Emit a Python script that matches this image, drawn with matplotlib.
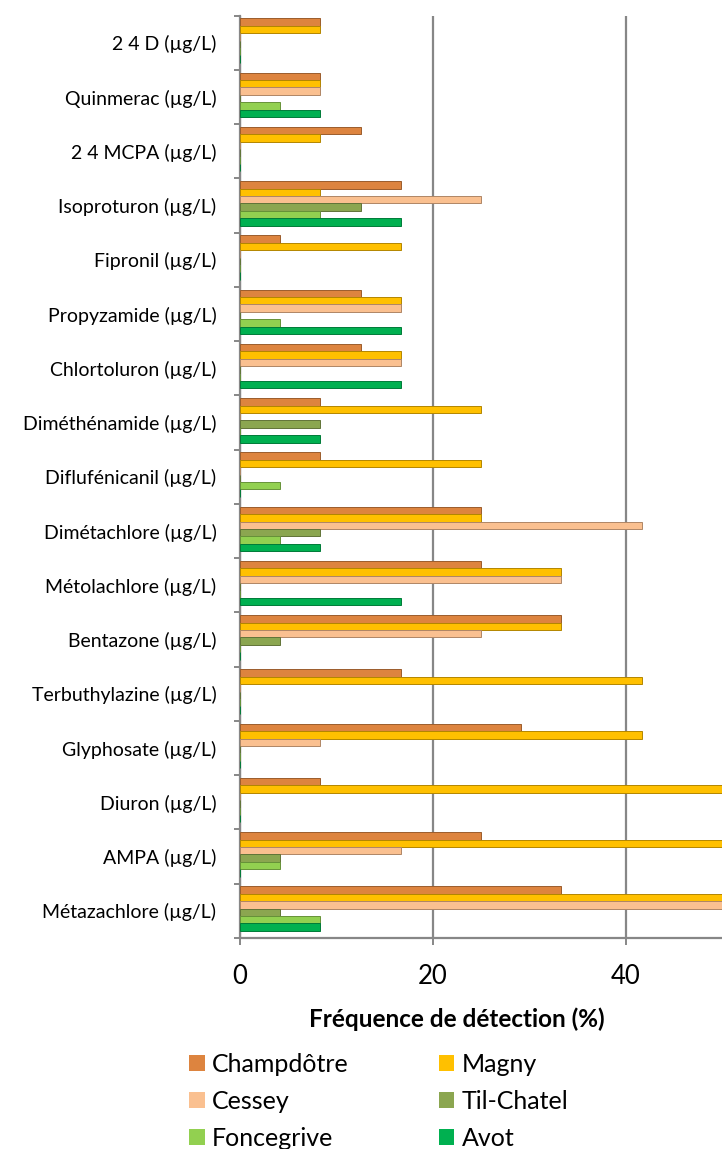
import numpy as np
import matplotlib.pyplot as plt
from matplotlib.patches import Patch
import matplotlib.colors as mcolors

# -------------- DATA --------------
categories = [
    "2 4 D (µg/L)", "Quinmerac (µg/L)", "2 4 MCPA (µg/L)", "Isoproturon (µg/L)",
    "Fipronil (µg/L)", "Propyzamide (µg/L)", "Chlortoluron (µg/L)",
    "Diméthénamide (µg/L)", "Diflufénicanil (µg/L)", "Dimétachlore (µg/L)",
    "Métolachlore (µg/L)", "Bentazone (µg/L)", "Terbuthylazine (µg/L)",
    "Glyphosate (µg/L)", "Diuron (µg/L)", "AMPA (µg/L)", "Métazachlore (µg/L)",
]
sites = ["Champdôtre", "Magny", "Cessey", "Til-Chatel", "Foncegrive", "Avot"]

champdotre = [8.33, 8.33, 12.5, 16.67, 4.17, 12.5, 12.5, 8.33, 8.33, 25, 25, 33.33, 16.67, 29.17, 8.33, 25, 33.33]
magny = [8.33, 8.33, 8.33, 8.33, 16.67, 16.67, 16.67, 25, 25, 25, 33.33, 33.33, 41.67, 41.67, 50, 50, 50]
cessey = [0, 8.33, 0, 25, 0, 16.67, 16.67, 0, 0, 41.67, 33.33, 25, 0, 8.33, 0, 16.67, 50]
til_chatel = [0, 0, 0, 12.5, 0, 0, 0, 8.33, 0, 8.33, 0, 4.17, 0, 0, 0, 4.17, 4.17]
foncegrive = [0, 4.17, 0, 8.33, 0, 4.17, 0, 0, 4.17, 4.17, 0, 0, 0, 0, 0, 4.17, 8.33]
avot = [0, 8.33, 0, 16.67, 0, 16.67, 16.67, 8.33, 0, 8.33, 16.67, 0, 0, 0, 0, 0, 8.33]
# ----------------------------------

series = [champdotre, magny, cessey, til_chatel, foncegrive, avot]
colors = ["#DD843F", "#FFC000", "#FAC090", "#8BA650", "#92D050", "#00B050"]
GRAY = "#878787"
FONT = "Lato"

plt.rcParams["font.family"] = [FONT, "DejaVu Sans"]

fig = plt.figure(figsize=(7.22, 11.49), dpi=100)
ax = fig.add_axes([240 / 722, 1 - 938 / 1149, 482 / 722, (938 - 15.7) / 1149])

y = np.arange(len(categories))
bar_h = 0.1365
start = -0.5 + 0.05
for k, (vals, c) in enumerate(zip(series, colors)):
    edge = tuple(v * 0.7 for v in mcolors.to_rgb(c))
    ax.barh(y + start + bar_h * (k + 0.5), vals, height=bar_h, color=c,
            edgecolor=edge, linewidth=0.7, zorder=3)

ax.set_xlim(0, 50)
ax.set_ylim(len(categories) - 0.5, -0.5)

ax.set_yticks(y)
ax.set_yticklabels(categories, fontsize=14)
ax.set_yticks(np.arange(len(categories) + 1) - 0.5, minor=True)
ax.tick_params(axis="y", which="major", length=0, pad=17)
ax.tick_params(axis="y", which="minor", length=4, width=1.4, color=GRAY)

ax.set_xticks([0, 20, 40])
ax.tick_params(axis="x", length=5, width=1.4, color=GRAY, labelsize=18.5, pad=14)
ax.grid(axis="x", color=GRAY, linewidth=1.6, zorder=0)

for side in ["top", "right"]:
    ax.spines[side].set_visible(False)
for side in ["left", "bottom"]:
    ax.spines[side].set_color(GRAY)
    ax.spines[side].set_linewidth(1.6)

ax.set_xlabel("Fréquence de détection (%)", fontsize=17.5, fontweight="bold")
ax.xaxis.set_label_coords((457 - 240) / 482, -(1007 - 938) / 922)

handles = [Patch(facecolor=c, label=s) for s, c in zip(sites, colors)]
order = [0, 2, 4, 1, 3, 5]
fig.legend([handles[i] for i in order], [sites[i] for i in order],
           ncol=2, loc="upper left", bbox_to_anchor=(189 / 722, 1 - 1053 / 1149),
           frameon=False, fontsize=18, handlelength=0.62, handleheight=0.62,
           handletextpad=0.3, columnspacing=3.6, labelspacing=0.56,
           borderpad=0, borderaxespad=0)

fig.savefig("out.png", dpi=100)
